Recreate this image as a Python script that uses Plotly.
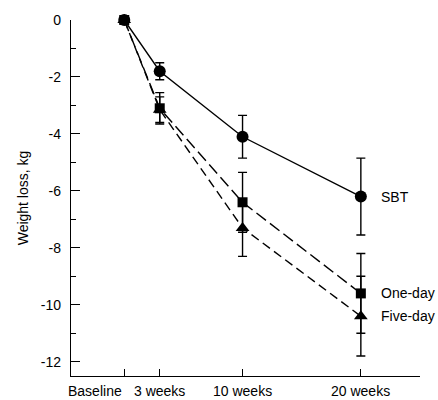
import plotly.graph_objects as go

weeks = [0, 3, 10, 20]
tick_labels = ["Baseline", "3 weeks", "10 weeks", "20 weeks"]
y_tick_vals = [0, -2, -4, -6, -8, -10, -12]
y_tick_labels = ["0", "-2", "-4", "-6", "-8", "-10", "-12"]

sbt = [0, -1.8, -4.1, -6.2]
sbt_err = [0, 0.3, 0.75, 1.35]
one_day = [0, -3.1, -6.4, -9.6]
one_day_err = [0, 0.55, 1.05, 1.4]
five_day = [0, -3.15, -7.3, -10.4]
five_day_err = [0, 0.45, 1.0, 1.4]

series_names = ["SBT", "One-day", "Five-day"]

FONT = "Liberation Sans, Arial, Helvetica, sans-serif"
BLACK = "#000000"
FS = 14

fig = go.Figure()

def add(y, err, name, symbol, size, dash):
    fig.add_trace(go.Scatter(
        x=weeks, y=y, name=name, mode="lines+markers",
        line=dict(color=BLACK, width=1.4, dash=dash),
        marker=dict(symbol=symbol, size=size, color=BLACK),
        error_y=dict(type="data", array=err, visible=True,
                     color=BLACK, thickness=1.4, width=4.5),
        cliponaxis=False, showlegend=False,
    ))

add(five_day, five_day_err, series_names[2], "triangle-up", 12, "9px,5px")
add(one_day, one_day_err, series_names[1], "square", 10, "12px,5px")
add(sbt, sbt_err, series_names[0], "circle", 12, "solid")

# end labels
for name, vals in zip(series_names, [sbt, one_day, five_day]):
    fig.add_annotation(x=weeks[-1], y=vals[-1], text=name, showarrow=False,
                       xanchor="left", yanchor="middle", xshift=18,
                       font=dict(family=FONT, size=FS, color=BLACK))

# x tick labels
for i, (w, lab) in enumerate(zip(weeks, tick_labels)):
    fig.add_annotation(x=w, y=0, yref="paper", text=lab, showarrow=False,
                       xanchor="right" if i == 0 else "center",
                       yanchor="top", yshift=-5, xshift=0,
                       font=dict(family=FONT, size=FS, color=BLACK))

fig.update_layout(
    width=438, height=400,
    margin=dict(l=71, r=18, t=20, b=24, autoexpand=False),
    plot_bgcolor="white", paper_bgcolor="white",
    font=dict(family=FONT, size=FS, color=BLACK),
    xaxis=dict(range=[-4.5, 25], tickvals=weeks, ticktext=[""] * 4,
               ticks="inside", ticklen=7, tickwidth=1.2, tickcolor=BLACK,
               showline=True, linecolor=BLACK, linewidth=1.4, automargin=False,
               showgrid=False, zeroline=False, fixedrange=True),
    yaxis=dict(range=[-12.5, 0], tickvals=y_tick_vals, ticktext=y_tick_labels,
               ticks="inside", ticklen=9, tickwidth=1.2, tickcolor=BLACK,
               ticklabelstandoff=6, automargin=False,
               minor=dict(tickvals=[-1, -3, -5, -7, -9, -11], ticks="inside",
                          ticklen=5, tickwidth=1.2, tickcolor=BLACK),
               showline=True, linecolor=BLACK, linewidth=1.4,
               showgrid=False, zeroline=False,
               title=dict(text="Weight loss, kg", standoff=8,
                          font=dict(family=FONT, size=FS, color=BLACK)),
               tickfont=dict(family=FONT, size=FS, color=BLACK)),
)

fig.write_html(
    "out.html",
    config={"displayModeBar": False},
    post_script="document.body.style.margin='0';document.body.style.overflow='hidden';",
)
